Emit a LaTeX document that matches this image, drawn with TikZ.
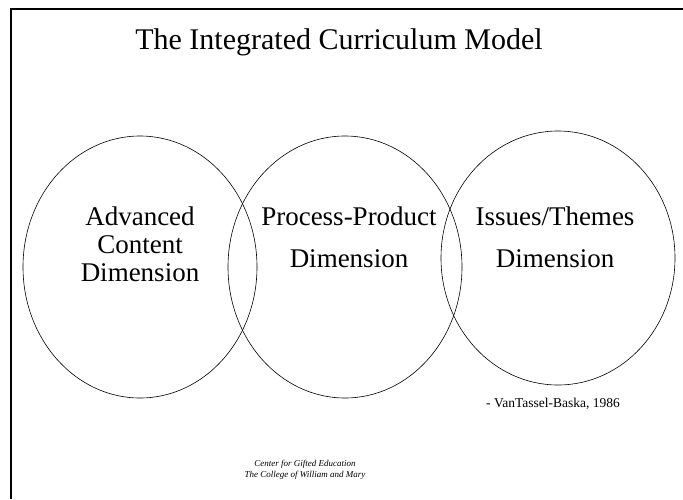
\documentclass[tikz,border=0pt]{standalone}
\usepackage{fontspec}
\setmainfont{Liberation Serif}
\usetikzlibrary{shapes.geometric}
\tikzset{
  dimcircle/.style={draw, ellipse, minimum width=234pt, minimum height=262pt, inner sep=0pt, line width=0.6pt},
  dimlabel/.style={align=center, font=\fontsize{27}{28}\selectfont, inner sep=0pt}
}

\begin{document}
\begin{tikzpicture}[x=1pt,y=-1pt]
		\useasboundingbox (0,0) rectangle (683,499);
		%%%%% START %%%%%
		\draw[line width=2pt] (11,499) -- (11,9) -- (683,9);
		
		\node[font=\fontsize{30}{36}\selectfont] (title) at (339,42) {The Integrated Curriculum Model};
		
		\node[dimcircle] (content) at (140,267) {};
		\node[dimcircle] (process) at (345,267) {};
		\node[dimcircle, minimum height=254pt] (issues) at (558,258) {};
		
		\node[dimlabel] (contenttxt) at (140,244) {Advanced\\Content\\Dimension};
		\node[dimlabel] (processtxt) at (349,237) {Process-Product\\[14pt]Dimension};
		\node[dimlabel] (issuestxt) at (555,237) {Issues/Themes\\[14pt]Dimension};
		
		\node[font=\fontsize{13.5}{15}\selectfont] (cite) at (553,404) {- VanTassel-Baska, 1986};
		
		\node[align=center, font=\fontsize{9}{11}\selectfont\itshape] (centre) at (305,470) {Center for Gifted Education\\The College of William and Mary};
		%%%%% END %%%%%
	\end{tikzpicture}
\end{document}
